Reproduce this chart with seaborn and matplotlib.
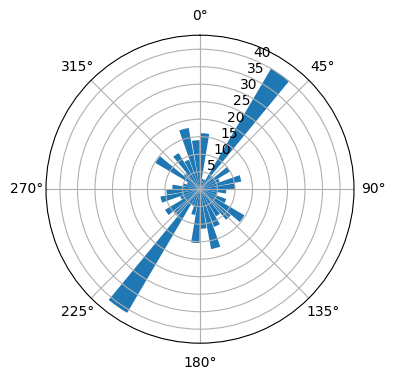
import numpy as np
import matplotlib
matplotlib.use("Agg")
import matplotlib.pyplot as plt
import seaborn as sns

# Direction bins (degrees, bin centres) and bar lengths
directions = [5, 15, 25, 35, 45, 55, 65, 75, 85, 95, 105, 115,
              125, 135, 145, 155, 165, 175, 185, 195, 205, 215, 225, 235,
              245, 255, 265, 275, 285, 295, 305, 315, 325, 335, 345, 355]
counts = [16, 3, 3, 40, 5, 10, 6, 12, 10, 7.5, 5, 8,
          14.7, 11.5, 9, 11.5, 17.4, 11.3, 15.4, 7.5, 5, 41, 9.7, 11.6,
          6, 11.5, 9.6, 7.9, 5, 4, 14.8, 6, 12, 9, 17.8, 14]
bar_width_deg = 9
radial_ticks = [5, 10, 15, 20, 25, 30, 35, 40]

color = sns.color_palette("tab10")[0]

fig = plt.figure(figsize=(3.96, 3.80), dpi=100)
ax = fig.add_axes([46 / 396, (380 - 189.2 - 154) / 380, 308 / 396, 308 / 380],
                  projection="polar")
ax.set_theta_zero_location("N")
ax.set_theta_direction(-1)
ax.bar(np.deg2rad(directions), counts, width=np.deg2rad(bar_width_deg),
       color=color, bottom=0.0)
ax.set_ylim(0, 44)
ax.set_yticks(radial_ticks)
ax.set_yticklabels([str(t) for t in radial_ticks])
ax.set_xticks(np.deg2rad(np.arange(0, 360, 45)))
ax.set_xticklabels([f"{d}°" for d in range(0, 360, 45)])

fig.savefig("out.png", dpi=100)
